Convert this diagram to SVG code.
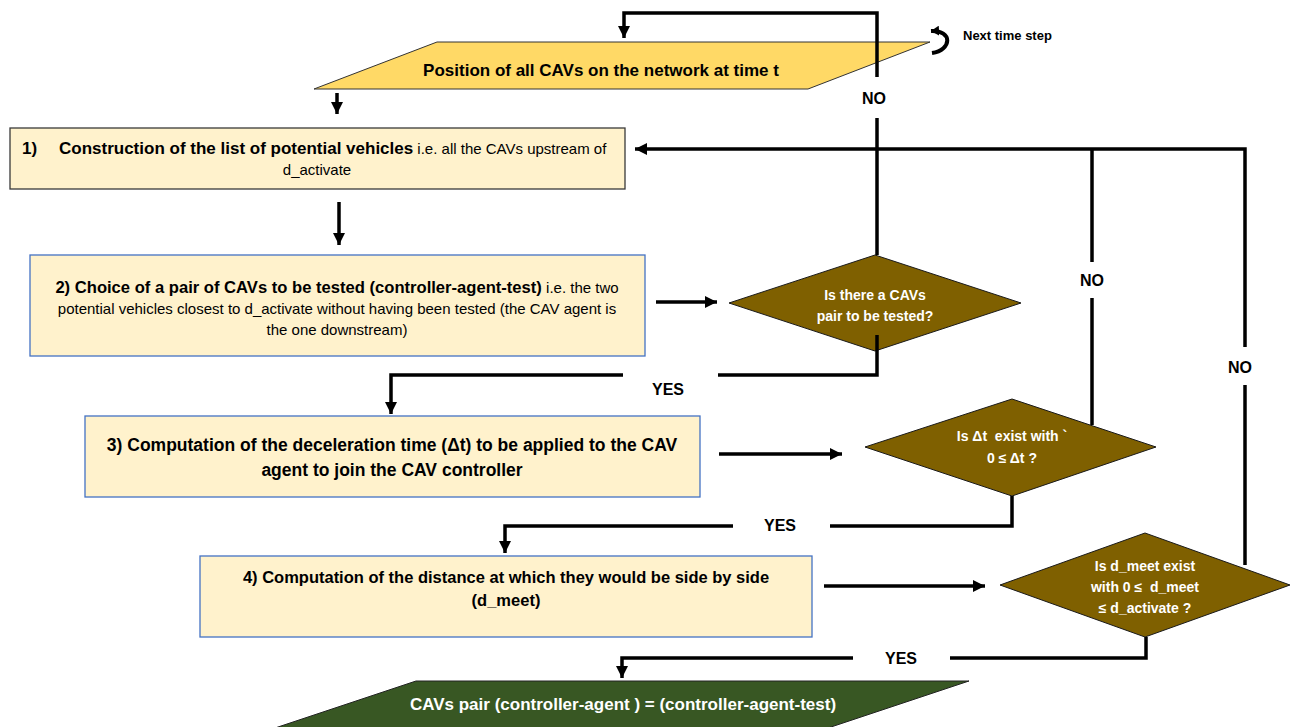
<svg xmlns="http://www.w3.org/2000/svg" width="1291" height="727" viewBox="0 0 1291 727">
<style>
.box{fill:#FFF2CC;stroke:#4472C4;stroke-width:1.3}
.box1{fill:#FFF2CC;stroke:#3a3a3a;stroke-width:1.3}
.dia{fill:#7F6000;stroke:#1a1a1a;stroke-width:1}
.t{font-family:"Liberation Sans",Arial,sans-serif;fill:#000;white-space:pre}
.b{font-weight:bold}
.w{fill:#fff;font-weight:bold;font-size:14px}
.lbl{font-family:"Liberation Sans",Arial,sans-serif;font-weight:bold;font-size:16px;fill:#000}
.c{fill:none;stroke:#000;stroke-width:3.5}
</style>
<defs>
<marker id="ah" markerUnits="userSpaceOnUse" markerWidth="14" markerHeight="12" refX="12" refY="6" orient="auto">
<path d="M0,0 L12,6 L0,12 Z" fill="#000"/>
</marker>
<marker id="ah2" markerUnits="userSpaceOnUse" markerWidth="10" markerHeight="10" refX="8" refY="5" orient="auto">
<path d="M0,0 L8,5 L0,10 Z" fill="#000"/>
</marker>
</defs>

<g id="start">
<polygon points="437,42 930,42 808,89 314,89" fill="#FFD966" stroke="#333" stroke-width="1"/>
<text class="t b" x="601" y="76" font-size="17" text-anchor="middle">Position of all CAVs on the network at time t</text>
</g>

<g id="next-step">
<path d="M932,53 C952,50 953,30 931,31" fill="none" stroke="#000" stroke-width="4" marker-end="url(#ah2)"/>
<text class="t b" x="963" y="40" font-size="13">Next time step</text>
</g>

<g id="step1">
<rect class="box1" x="10" y="128" width="615" height="61"/>
<text class="t b" x="22" y="154" font-size="17">1)</text>
<text class="t" x="59" y="154"><tspan class="b" font-size="17">Construction of the list of potential vehicles</tspan><tspan font-size="15"> i.e. all the CAVs upstream of</tspan></text>
<text class="t" x="317" y="175" font-size="15" text-anchor="middle">d_activate</text>
</g>

<g id="step2">
<rect class="box" x="30" y="255" width="615" height="101"/>
<text class="t" x="337" y="293" text-anchor="middle"><tspan class="b" font-size="16.6">2) Choice of a pair of CAVs to be tested (controller-agent-test)</tspan><tspan font-size="15"> i.e. the two</tspan></text>
<text class="t" x="337" y="314" font-size="15" text-anchor="middle">potential vehicles closest to d_activate without having been tested (the CAV agent is</text>
<text class="t" x="337" y="335" font-size="15" text-anchor="middle">the one downstream)</text>
</g>

<g id="decision1">
<polygon class="dia" points="875,255 1021,303 875,351 729,303"/>
<text class="t w" x="875" y="300" text-anchor="middle">Is there a CAVs</text>
<text class="t w" x="875" y="321" text-anchor="middle">pair to be tested?</text>
</g>

<g id="step3">
<rect class="box" x="85" y="416" width="615" height="81"/>
<text class="t b" x="392" y="451" font-size="17.5" text-anchor="middle">3) Computation of the deceleration time (Δt) to be applied to the CAV</text>
<text class="t b" x="392" y="476" font-size="17.5" text-anchor="middle">agent to join the CAV controller</text>
</g>

<g id="decision2">
<polygon class="dia" points="1012,399 1156,447 1012,496 865,447"/>
<text class="t w" x="1012" y="441" text-anchor="middle">Is Δt  exist with `</text>
<text class="t w" x="1012" y="463" text-anchor="middle">0 ≤ Δt ?</text>
</g>

<g id="step4">
<rect class="box" x="200" y="556" width="612" height="81"/>
<text class="t b" x="506" y="583" font-size="16.5" text-anchor="middle">4) Computation of the distance at which they would be side by side</text>
<text class="t b" x="506" y="606" font-size="16.5" text-anchor="middle">(d_meet)</text>
</g>

<g id="decision3">
<polygon class="dia" points="1145,533 1290,585 1145,637 1000,585"/>
<text class="t w" x="1145" y="571" text-anchor="middle">Is d_meet exist</text>
<text class="t w" x="1145" y="592" text-anchor="middle">with 0 ≤  d_meet</text>
<text class="t w" x="1145" y="613" text-anchor="middle">≤ d_activate ?</text>
</g>

<g id="result">
<polygon points="416,681 969,681 792,740 239,740" fill="#385723" stroke="#222" stroke-width="1"/>
<text class="t b" x="623" y="710" font-size="17" text-anchor="middle" style="fill:#fff">CAVs pair (controller-agent ) = (controller-agent-test)</text>
</g>

<g id="connectors">
<path class="c" d="M877,77 L877,13 L624,13 L624,38" marker-end="url(#ah)"/>
<path class="c" d="M877,255 L877,118"/>
<path class="c" d="M337,93 L337,114" marker-end="url(#ah)"/>
<path class="c" d="M1245,565 L1245,385"/>
<path class="c" d="M1245,347 L1245,149 L635,149" marker-end="url(#ah)"/>
<path class="c" d="M1092,425 L1092,298"/>
<path class="c" d="M1092,262 L1092,149"/>
<path class="c" d="M339,202 L339,245" marker-end="url(#ah)"/>
<path class="c" d="M656,302 L717,302" marker-end="url(#ah)"/>
<path class="c" d="M877,335 L877,375 L718,375"/>
<path class="c" d="M623,375 L391,375 L391,414" marker-end="url(#ah)"/>
<path class="c" d="M719,454 L842,454" marker-end="url(#ah)"/>
<path class="c" d="M1012,496 L1012,526 L830,526"/>
<path class="c" d="M733,526 L505,526 L505,553" marker-end="url(#ah)"/>
<path class="c" d="M824,586 L985,586" marker-end="url(#ah)"/>
<path class="c" d="M1146,637 L1146,658 L950,658"/>
<path class="c" d="M853,658 L622,658 L622,678" marker-end="url(#ah)"/>
</g>

<g id="labels">
<text class="lbl" x="874" y="104" text-anchor="middle">NO</text>
<text class="lbl" x="1092" y="286" text-anchor="middle">NO</text>
<text class="lbl" x="1240" y="373" text-anchor="middle">NO</text>
<text class="lbl" x="668" y="395" text-anchor="middle">YES</text>
<text class="lbl" x="780" y="531" text-anchor="middle">YES</text>
<text class="lbl" x="901" y="664" text-anchor="middle">YES</text>
</g>
</svg>
